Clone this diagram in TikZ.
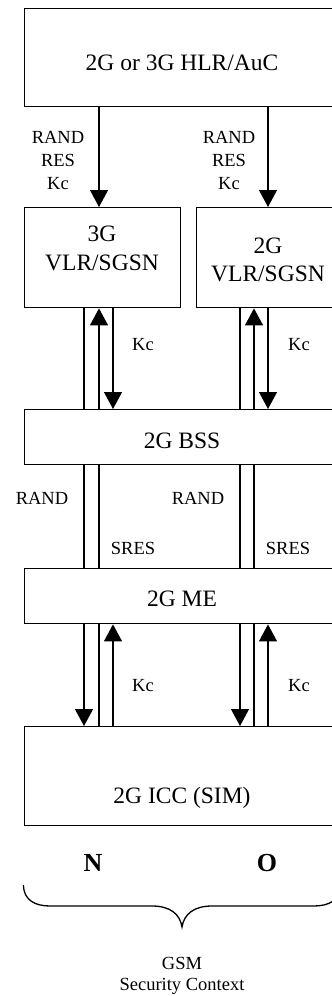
\documentclass[tikz,border=0pt]{standalone}
\usepackage{fontspec}
\setmainfont{Liberation Serif}
\usetikzlibrary{arrows.meta}
\begin{document}
\begin{tikzpicture}[x=1pt,y=-1pt,
  boxnode/.style={draw, line width=1.4pt, rectangle, inner sep=0pt, anchor=north west},
  bigtxt/.style={font=\fontsize{23.5}{28}\selectfont, inner sep=0pt, anchor=base},
  smalltxt/.style={font=\fontsize{18.5}{22}\selectfont, inner sep=0pt, anchor=base},
  boldtxt/.style={font=\fontsize{26}{30}\selectfont\bfseries, inner sep=0pt, anchor=base},
  ln/.style={line width=1.3pt},
  arr/.style={line width=1.3pt, -{Triangle[length=17pt,width=18pt]}}]
\useasboundingbox (0,0) rectangle (332,996);
\clip (0,0) rectangle (332,996);
% column coordinates
\coordinate (c1) at (84,0);
\coordinate (c2) at (99,0);
\coordinate (c3) at (113,0);
\coordinate (c4) at (240,0);
\coordinate (c5) at (254,0);
\coordinate (c6) at (268,0);
% boxes
\node[boxnode, minimum width=317.5pt, minimum height=98.5pt] (hlr) at (23.5,7.5) {};
\node[boxnode, minimum width=156.5pt, minimum height=100pt] (vlrA) at (23.5,207) {};
\node[boxnode, minimum width=145pt, minimum height=100pt] (vlrB) at (196,207) {};
\node[boxnode, minimum width=317.5pt, minimum height=55pt] (bss) at (23.5,409) {};
\node[boxnode, minimum width=317.5pt, minimum height=55pt] (me) at (23.5,568) {};
\node[boxnode, minimum width=317.5pt, minimum height=99pt] (icc) at (23.5,726) {};
% box texts
\node[bigtxt] (thlr) at (182,70) {2G or 3G HLR/AuC};
\node[bigtxt] (tvA1) at (102,241) {3G};
\node[bigtxt] (tvA2) at (102,270) {VLR/SGSN};
\node[bigtxt] (tvB1) at (268,253) {2G};
\node[bigtxt] (tvB2) at (268,281) {VLR/SGSN};
\node[bigtxt] (tbss) at (182,448) {2G BSS};
\node[bigtxt] (tme) at (182,606) {2G ME};
\node[bigtxt] (ticc) at (182,803) {2G ICC (SIM)};
% HLR -> VLR
\draw[arr] (c2 |- hlr.south) -- (c2 |- vlrA.north);
\draw[arr] (c6 |- hlr.south) -- (c6 |- vlrB.north);
\node[smalltxt] (la1) at (58,143) {RAND};
\node[smalltxt] (la2) at (58,166) {RES};
\node[smalltxt] (la3) at (58,189) {Kc};
\node[smalltxt] (lb1) at (229,143) {RAND};
\node[smalltxt] (lb2) at (229,166) {RES};
\node[smalltxt] (lb3) at (229,189) {Kc};
% VLR <-> BSS
\draw[ln] (c1 |- vlrA.south) -- (c1 |- bss.north);
\draw[arr] (c2 |- bss.north) -- (c2 |- vlrA.south);
\draw[arr] (c3 |- vlrA.south) -- (c3 |- bss.north);
\draw[ln] (c4 |- vlrB.south) -- (c4 |- bss.north);
\draw[arr] (c5 |- bss.north) -- (c5 |- vlrB.south);
\draw[arr] (c6 |- vlrB.south) -- (c6 |- bss.north);
\node[smalltxt] (kc1) at (143,350) {Kc};
\node[smalltxt] (kc2) at (299,350) {Kc};
% BSS <-> ME
\draw[ln] (c1 |- bss.south) -- (c1 |- me.north);
\draw[ln] (c2 |- bss.south) -- (c2 |- me.north);
\draw[ln] (c4 |- bss.south) -- (c4 |- me.north);
\draw[ln] (c5 |- bss.south) -- (c5 |- me.north);
\node[smalltxt] (r1) at (42,504) {RAND};
\node[smalltxt] (r2) at (198,504) {RAND};
\node[smalltxt] (s1) at (133,554) {SRES};
\node[smalltxt] (s2) at (288,554) {SRES};
% ME <-> ICC
\draw[arr] (c1 |- me.south) -- (c1 |- icc.north);
\draw[ln] (c2 |- me.south) -- (c2 |- icc.north);
\draw[arr] (c3 |- icc.north) -- (c3 |- me.south);
\draw[arr] (c4 |- me.south) -- (c4 |- icc.north);
\draw[ln] (c5 |- me.south) -- (c5 |- icc.north);
\draw[arr] (c6 |- icc.north) -- (c6 |- me.south);
\node[smalltxt] (kc3) at (143,691) {Kc};
\node[smalltxt] (kc4) at (299,691) {Kc};
% N / O
\node[boldtxt] (tn) at (93,871) {N};
\node[boldtxt] (to) at (267,871) {O};
% brace
\draw[line width=1.3pt] (23.5,885) .. controls (23.5,900) and (35,906) .. (50,906)
  -- (152,906) .. controls (170,906) and (180,914) .. (182,927)
  .. controls (184,914) and (194,906) .. (212,906)
  -- (314,906) .. controls (329,906) and (340.5,900) .. (340.5,885);
\node[smalltxt] (gsm) at (182,969) {GSM};
\node[smalltxt] (sc) at (182,990) {Security Context};
\end{tikzpicture}
\end{document}
